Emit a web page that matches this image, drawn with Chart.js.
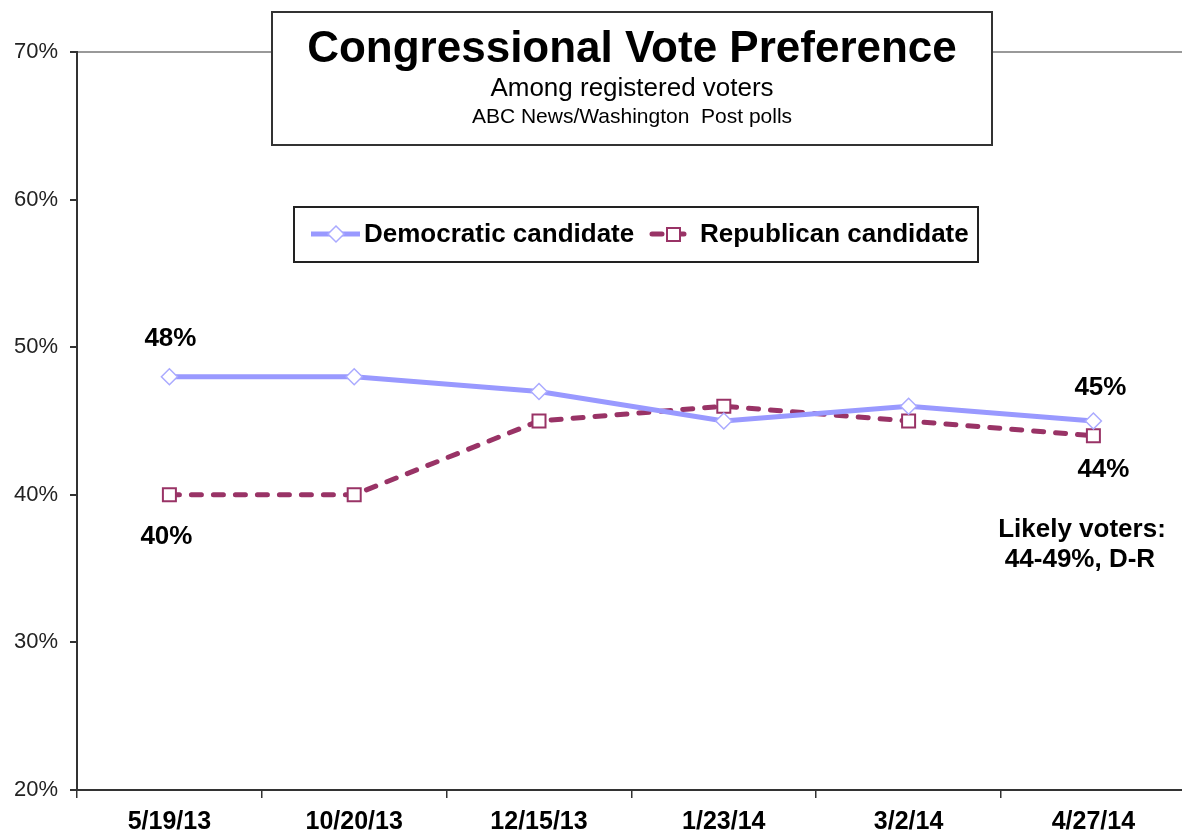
<!DOCTYPE html>
<html>
<head>
<meta charset="utf-8">
<script src="https://cdn.jsdelivr.net/npm/chart.js@4.4.1/dist/chart.umd.min.js"></script>
<style>
html, body { margin: 0; padding: 0; background: #fff; overflow: hidden; }
#wrap { width: 1197px; height: 832px; }
</style>
</head>
<body>
<div id="wrap"><canvas id="voteChart" width="1197" height="832"></canvas></div>
<script>
// poll dates and shares (percent)
var pollDates = ["5/19/13", "10/20/13", "12/15/13", "1/23/14", "3/2/14", "4/27/14"];
var demShare = [48, 48, 47, 45, 46, 45];
var repShare = [40, 40, 45, 46, 45, 44];
var yMin = 20, yMax = 70, yStep = 10;

var demColor = "#9999FF";
var repColor = "#993366";
var sans = "'Liberation Sans', Arial, sans-serif";

// title box, legend box and value labels
var extras = {
    id: "extras",
    afterDraw: function(chart) {
        var ctx = chart.ctx;
        var xs = chart.scales.x, ys = chart.scales.y;
        ctx.save();

        // title box
        ctx.fillStyle = "#fff";
        ctx.fillRect(272, 12, 720, 133);
        ctx.strokeStyle = "#333";
        ctx.lineWidth = 2;
        ctx.strokeRect(272, 12, 720, 133);
        ctx.fillStyle = "#000";
        ctx.textAlign = "center";
        ctx.textBaseline = "middle";
        ctx.font = "bold 44px " + sans;
        ctx.fillText("Congressional Vote Preference", 632, 50);
        ctx.font = "26px " + sans;
        ctx.fillText("Among registered voters", 632, 89);
        ctx.font = "21px " + sans;
        ctx.fillText("ABC News/Washington  Post polls", 632, 117);

        // legend box
        ctx.fillStyle = "#fff";
        ctx.fillRect(294, 207, 684, 55);
        ctx.strokeStyle = "#222";
        ctx.strokeRect(294, 207, 684, 55);
        var ly = 234;
        ctx.lineWidth = 5;
        ctx.strokeStyle = demColor;
        ctx.beginPath(); ctx.moveTo(311, ly); ctx.lineTo(360, ly); ctx.stroke();
        ctx.fillStyle = "#fff";
        ctx.strokeStyle = "#AAAAFF";
        ctx.lineWidth = 1.5;
        ctx.beginPath();
        ctx.moveTo(336, ly - 8); ctx.lineTo(344, ly); ctx.lineTo(336, ly + 8); ctx.lineTo(328, ly);
        ctx.closePath(); ctx.fill(); ctx.stroke();

        ctx.strokeStyle = repColor;
        ctx.lineWidth = 5;
        ctx.lineCap = "round";
        ctx.setLineDash([10, 12]);
        ctx.beginPath(); ctx.moveTo(652, ly); ctx.lineTo(695, ly); ctx.stroke();
        ctx.setLineDash([]);
        ctx.lineCap = "butt";
        ctx.lineWidth = 2;
        ctx.fillStyle = "#fff";
        ctx.fillRect(667, ly - 6, 13, 13);
        ctx.strokeRect(667, ly - 6, 13, 13);

        ctx.fillStyle = "#000";
        ctx.textAlign = "left";
        ctx.font = "bold 26px " + sans;
        ctx.fillText("Democratic candidate", 364, ly + 1);
        ctx.fillText("Republican candidate", 700, ly + 1);

        // value labels at first and last polls
        var last = pollDates.length - 1;
        ctx.textAlign = "center";
        ctx.fillText(demShare[0] + "%", xs.getPixelForValue(0) + 1, ys.getPixelForValue(demShare[0]) - 38);
        ctx.fillText(repShare[0] + "%", xs.getPixelForValue(0) - 3, ys.getPixelForValue(repShare[0]) + 42);
        ctx.fillText(demShare[last] + "%", xs.getPixelForValue(last) + 7, ys.getPixelForValue(demShare[last]) - 33);
        ctx.fillText(repShare[last] + "%", xs.getPixelForValue(last) + 10, ys.getPixelForValue(repShare[last]) + 34);

        ctx.fillText("Likely voters:", 1082, 530);
        ctx.fillText("44-49%, D-R", 1080, 560);
        ctx.restore();
    }
};

var chartdata = {
    labels: pollDates,
    datasets: [
        {
            label: "Democratic candidate",
            data: demShare,
            borderColor: demColor,
            borderWidth: 5,
            tension: 0,
            pointStyle: "rectRot",
            pointRadius: 8,
            pointBackgroundColor: "#fff",
            pointBorderColor: "#AAAAFF",
            pointBorderWidth: 1.5
        },
        {
            label: "Republican candidate",
            data: repShare,
            borderColor: repColor,
            borderWidth: 5,
            borderDash: [10, 12],
            borderCapStyle: "round",
            tension: 0,
            pointStyle: "rect",
            pointRadius: 9.2,
            pointBackgroundColor: "#fff",
            pointBorderColor: repColor,
            pointBorderWidth: 2
        }
    ]
};

var ctx = document.getElementById("voteChart");
var VoteChart = new Chart(ctx, {
    type: "line",
    data: chartdata,
    plugins: [extras],
    options: {
        responsive: false,
        animation: false,
        layout: { padding: { left: 0, right: 4, top: 52, bottom: 0 } },
        plugins: { legend: { display: false }, tooltip: { enabled: false } },
        scales: {
            x: {
                offset: true,
                afterFit: function(scale) { scale.height = 42; },
                border: { color: "#333", width: 2 },
                grid: { offset: true, drawOnChartArea: false, color: "#333", tickColor: "#333", tickLength: 8, lineWidth: 1.5 },
                ticks: { color: "#000", padding: 9, font: { family: sans, size: 25, weight: "bold" } }
            },
            y: {
                min: yMin,
                max: yMax,
                afterFit: function(scale) { scale.width = 77; },
                border: { color: "#333", width: 2 },
                grid: {
                    color: function(c) { return c.tick && c.tick.value === yMax ? "#999" : "rgba(0,0,0,0)"; },
                    lineWidth: 2,
                    tickColor: "#333",
                    tickLength: 7
                },
                ticks: {
                    stepSize: yStep,
                    color: "#222",
                    padding: 12,
                    font: { family: sans, size: 22 },
                    callback: function(v) { return v + "%"; }
                }
            }
        }
    }
});
</script>
</body>
</html>
